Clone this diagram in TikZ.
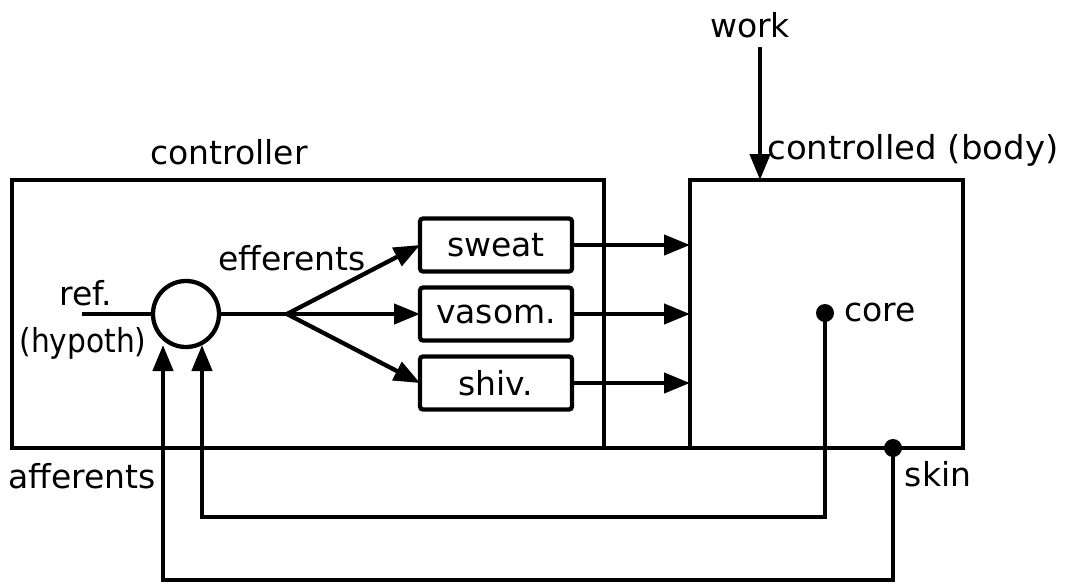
\documentclass[tikz,border=0pt]{standalone}
\usepackage{fontspec}
\setmainfont{DejaVu Sans}
\usetikzlibrary{arrows.meta,calc}
\begin{document}
\begin{tikzpicture}[x=1pt,y=-1pt,line width=4.3pt,
  lbl/.style={font=\fontsize{33}{38}\selectfont,inner sep=0pt},
  blk/.style={draw,rounded corners=3pt,minimum width=152pt,minimum height=53pt,inner sep=0pt,outer sep=0pt,font=\fontsize{33}{38}\selectfont},
  big/.style={draw,inner sep=0pt,outer sep=0pt},
  arr/.style={-{Triangle[length=26pt,width=20pt]}},
  dot/.style={circle,fill,inner sep=0pt,minimum size=18pt}]
\useasboundingbox (0,0) rectangle (1069,584);
% boxes
\node[big,minimum width=592pt,minimum height=268pt] (ctrl) at (308,314) {};
\node[big,minimum width=273pt,minimum height=268pt] (body) at (826.5,314) {};
\node[draw,circle,minimum size=66pt,inner sep=0pt,outer sep=0pt] (cmp) at (186,314) {};
\node[blk] (sweat) at (496,245) {sweat};
\node[blk] (vasom) at (496,314) {vasom.};
\node[blk] (shiv) at (496,383) {shiv.};
\node[dot] (core) at (825,313) {};
\node[dot] (skin) at (893,448) {};
% coordinates
\coordinate (ref) at (82,314);
\coordinate (br) at (287,314);
\coordinate (workstart) at (760,47);
\coordinate (workend) at (760,180);
\coordinate (a1) at (163,345);
\coordinate (a2) at (202,345);
% labels
\node[lbl] (tctrl) at (229,152) {controller};
\node[lbl,xscale=1.03] (tbody) at (913,150) {controlled (body)};
\node[lbl] (twork) at (750,25) {work};
\node[lbl] (teff) at (292,258) {efferents};
\node[lbl] (tref) at (86,293) {ref.};
\node[lbl,xscale=0.9] (thyp) at (83,343) {(hypoth)};
\node[lbl] (taff) at (82,476) {afferents};
\node[lbl] (tcore) at (880,312) {core};
\node[lbl] (tskin) at (938,474) {skin};
% connectors
\draw (ctrl.south east) -- (body.south west);
\draw (ref) -- (cmp.west);
\draw (cmp.east) -- (br);
\draw[arr] (br) -- (sweat.west);
\draw[arr] (br) -- (vasom.west);
\draw[arr] (br) -- (shiv.west);
\draw[arr] (sweat.east) -- (sweat.east -| body.west);
\draw[arr] (vasom.east) -- (vasom.east -| body.west);
\draw[arr] (shiv.east) -- (shiv.east -| body.west);
\draw[arr] (workstart) -- (workend);
\draw[arr] (core.center) -- (825,517) -| (a2);
\draw[arr] (skin.center) -- (893,580) -| (a1);
\end{tikzpicture}
\end{document}
